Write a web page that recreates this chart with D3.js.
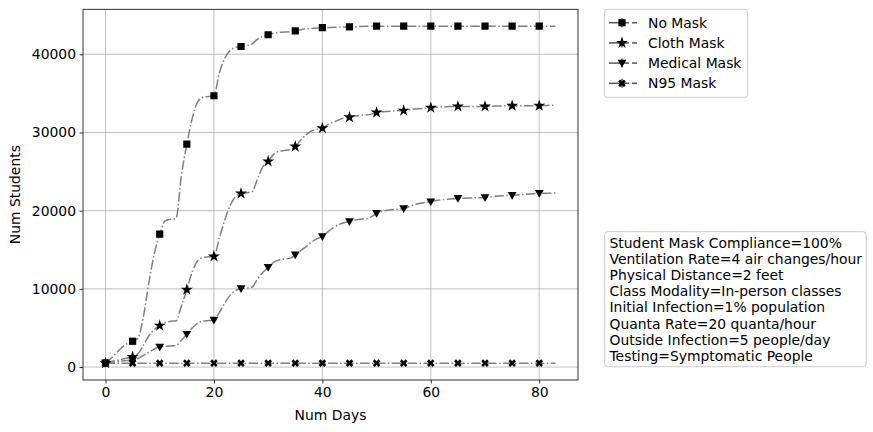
<!DOCTYPE html>
<html>
<head>
<meta charset="utf-8">
<script src="https://cdn.jsdelivr.net/npm/d3@7/dist/d3.min.js"></script>
<style>
  body { margin: 0; background: #fff; }
  svg { font-family: "DejaVu Sans", sans-serif; }
</style>
</head>
<body>
<div id="chart"></div>
<script>
// daily values, day 0..83
const days = d3.range(0, 84);

const noMask = [
  500, 1100, 1800, 2500, 3000, 3300, 3700, 6500, 10800, 14500,
  17000, 18700, 18900, 19000, 24500, 28500, 31800, 33900, 34500, 34600,
  34700, 37600, 39500, 40500, 40900, 41000, 41100, 41300, 41900, 42300,
  42500, 42700, 42800, 42850, 42900, 43000, 43150, 43250, 43300, 43350,
  43400, 43420, 43450, 43480, 43500, 43500, 43520, 43550, 43580, 43600,
  43600, 43600, 43600, 43600, 43600, 43600, 43600, 43600, 43600, 43600,
  43600, 43600, 43600, 43600, 43600, 43600, 43600, 43600, 43600, 43600,
  43600, 43600, 43600, 43600, 43600, 43600, 43600, 43600, 43600, 43600,
  43600, 43600, 43600, 43600
];

const clothMask = [
  500, 700, 850, 1000, 1150, 1300, 1700, 2800, 4000, 4800,
  5300, 5700, 5850, 5900, 7800, 9900, 12200, 13600, 14000, 14100,
  14150, 16500, 18800, 20700, 21800, 22200, 22300, 22400, 24000, 25600,
  26300, 27200, 27600, 27700, 27800, 28200, 29000, 29700, 30200, 30400,
  30550, 31000, 31300, 31600, 31850, 31950, 32100, 32200, 32250, 32350,
  32550, 32650, 32700, 32750, 32780, 32800, 32900, 33000, 33050, 33100,
  33170, 33230, 33280, 33300, 33320, 33330, 33330, 33330, 33330, 33330,
  33330, 33350, 33380, 33400, 33410, 33420, 33420, 33420, 33420, 33420,
  33420, 33450, 33480, 33500
];

const medicalMask = [
  500, 600, 700, 780, 850, 900, 1100, 1500, 1900, 2300,
  2560, 2650, 2700, 2750, 3400, 4200, 5000, 5600, 5900, 5950,
  6000, 7000, 8200, 9200, 9800, 10050, 10100, 10200, 11200, 12100,
  12750, 13400, 13700, 13800, 13900, 14350, 14900, 15400, 16000, 16400,
  16700, 17300, 17800, 18200, 18450, 18600, 18800, 18900, 18950, 19200,
  19650, 19900, 20050, 20150, 20200, 20260, 20500, 20750, 20950, 21050,
  21150, 21300, 21400, 21450, 21530, 21580, 21600, 21620, 21640, 21660,
  21670, 21750, 21830, 21900, 21940, 21960, 22010, 22060, 22120, 22180,
  22220, 22230, 22240, 22250
];

const n95Mask = [
  500, 500, 500, 500, 500, 500, 500, 500, 500, 500,
  500, 500, 500, 500, 500, 500, 500, 500, 500, 500,
  500, 500, 500, 500, 500, 500, 500, 500, 500, 500,
  500, 500, 500, 500, 500, 500, 500, 500, 500, 500,
  500, 500, 500, 500, 500, 500, 500, 500, 500, 500,
  500, 500, 500, 500, 500, 500, 500, 500, 500, 500,
  500, 500, 500, 500, 500, 500, 500, 500, 500, 500,
  500, 500, 500, 500, 500, 500, 500, 500, 500, 500,
  500, 500, 500, 500
];

const seriesNames = ['No Mask', 'Cloth Mask', 'Medical Mask', 'N95 Mask'];
const seriesValues = [noMask, clothMask, medicalMask, n95Mask];
const markerTypes = ['square', 'star', 'triangleDown', 'x'];

const xTicks = [0, 20, 40, 60, 80];
const yTicks = [0, 10000, 20000, 30000, 40000];

const infoLines = [
  'Student Mask Compliance=100%',
  'Ventilation Rate=4 air changes/hour',
  'Physical Distance=2 feet',
  'Class Modality=In-person classes',
  'Initial Infection=1% population',
  'Quanta Rate=20 quanta/hour',
  'Outside Infection=5 people/day',
  'Testing=Symptomatic People'
];

const W = 873, H = 432;
const plot = { left: 83, right: 578, top: 9.3, bottom: 380 };
const FS = 13.9;
const lineColor = '#808080';
const dashStyle = '9.6,2.4,1.5,2.4';

const svg = d3.select('#chart').append('svg')
  .attr('width', W).attr('height', H);

// matplotlib style 5% margins
const xExt = d3.extent(days);
const allVals = seriesValues.flat();
const yExt = d3.extent(allVals);
const xPad = (xExt[1] - xExt[0]) * 0.05;
const yPad = (yExt[1] - yExt[0]) * 0.05;

const x = d3.scaleLinear()
  .domain([xExt[0] - xPad, xExt[1] + xPad])
  .range([plot.left, plot.right]);
const y = d3.scaleLinear()
  .domain([yExt[0] - yPad, yExt[1] + yPad])
  .range([plot.bottom, plot.top]);

// grid
const grid = svg.append('g');
grid.selectAll('.gx').data(xTicks).enter().append('line')
  .attr('x1', d => x(d)).attr('x2', d => x(d))
  .attr('y1', plot.top).attr('y2', plot.bottom)
  .attr('stroke', '#b0b0b0').attr('stroke-width', 0.8);
grid.selectAll('.gy').data(yTicks).enter().append('line')
  .attr('y1', d => y(d)).attr('y2', d => y(d))
  .attr('x1', plot.left).attr('x2', plot.right)
  .attr('stroke', '#b0b0b0').attr('stroke-width', 0.8);

// axes
const xAxis = svg.append('g')
  .attr('transform', `translate(0,${plot.bottom})`)
  .call(d3.axisBottom(x).tickValues(xTicks).tickSize(3.5).tickPadding(3.5));
const yAxis = svg.append('g')
  .attr('transform', `translate(${plot.left},0)`)
  .call(d3.axisLeft(y).tickValues(yTicks).tickSize(3.5).tickPadding(3.5).tickFormat(d3.format('d')));

[xAxis, yAxis].forEach(a => {
  a.select('.domain').remove();
  a.selectAll('.tick line').attr('stroke', '#000').attr('stroke-width', 0.8);
  a.selectAll('.tick text')
    .attr('fill', '#000')
    .style('font-size', FS + 'px')
    .style('font-family', '"DejaVu Sans", sans-serif');
});

// frame
svg.append('rect')
  .attr('x', plot.left).attr('y', plot.top)
  .attr('width', plot.right - plot.left).attr('height', plot.bottom - plot.top)
  .attr('fill', 'none').attr('stroke', '#000').attr('stroke-width', 0.8);

// markers
function starPath(r) {
  const pts = [];
  for (let i = 0; i < 10; i++) {
    const a = -Math.PI / 2 + i * Math.PI / 5;
    const rr = i % 2 === 0 ? r : r * 0.382;
    pts.push([rr * Math.cos(a), rr * Math.sin(a)]);
  }
  return 'M' + pts.map(p => p.join(',')).join('L') + 'Z';
}
function xPath(r) {
  const w = r * 0.5;
  const s = [[-r, -r + w], [-r + w, -r], [0, -w], [r - w, -r], [r, -r + w], [w, 0],
    [r, r - w], [r - w, r], [0, w], [-r + w, r], [-r, r - w], [-w, 0]];
  return 'M' + s.map(p => p.join(',')).join('L') + 'Z';
}
function markerPath(type) {
  switch (type) {
    case 'square': return 'M-3.6,-3.6H3.6V3.6H-3.6Z';
    case 'star': return starPath(6.3);
    case 'triangleDown': return 'M-4.4,-3.3L4.4,-3.3L0,4.4Z';
    case 'x': return xPath(3.8);
  }
}

const line = d3.line()
  .x((d, i) => x(days[i]))
  .y(d => y(d))
  .curve(d3.curveMonotoneX);

svg.append('clipPath').attr('id', 'clip').append('rect')
  .attr('x', plot.left).attr('y', plot.top)
  .attr('width', plot.right - plot.left).attr('height', plot.bottom - plot.top);

const series = svg.append('g').attr('clip-path', 'url(#clip)');
seriesValues.forEach(vals => {
  series.append('path')
    .datum(vals)
    .attr('d', line)
    .attr('fill', 'none')
    .attr('stroke', lineColor)
    .attr('stroke-width', 1.5)
    .attr('stroke-dasharray', dashStyle);
});
seriesValues.forEach((vals, k) => {
  series.selectAll('.m' + k)
    .data(days.filter(d => d % 5 === 0 && d <= 80))
    .enter().append('path')
    .attr('transform', d => `translate(${x(d)},${y(vals[d])})`)
    .attr('d', markerPath(markerTypes[k]))
    .attr('fill', '#000');
});

// axis labels
svg.append('text')
  .attr('x', (plot.left + plot.right) / 2).attr('y', 420)
  .attr('text-anchor', 'middle').style('font-size', FS + 'px')
  .text('Num Days');
svg.append('text')
  .attr('transform', `translate(20,${(plot.top + plot.bottom) / 2}) rotate(-90)`)
  .attr('text-anchor', 'middle').style('font-size', FS + 'px')
  .text('Num Students');

// legend
const lg = svg.append('g');
lg.append('rect')
  .attr('x', 604.5).attr('y', 9.3).attr('width', 143).attr('height', 88)
  .attr('rx', 2.5).attr('fill', '#fff').attr('fill-opacity', 0.8)
  .attr('stroke', '#cccccc').attr('stroke-width', 1);
seriesNames.forEach((name, k) => {
  const cy = 22.7 + k * 20.2;
  const g = lg.append('g').attr('transform', `translate(0,${cy})`);
  g.append('line').attr('x1', 609).attr('x2', 629).attr('y1', 0).attr('y2', 0)
    .attr('stroke', '#555').attr('stroke-width', 1.5);
  g.append('line').attr('x1', 632).attr('x2', 637).attr('y1', 0).attr('y2', 0)
    .attr('stroke', '#555').attr('stroke-width', 1.5);
  g.append('line').attr('x1', 622).attr('x2', 622).attr('y1', -4.5).attr('y2', 4.5)
    .attr('stroke', '#555').attr('stroke-width', 1.5);
  g.append('path').attr('transform', 'translate(622,0)')
    .attr('d', markerPath(markerTypes[k])).attr('fill', '#000');
  g.append('text').attr('x', 648).attr('y', 5)
    .style('font-size', FS + 'px').text(name);
});

// info box
const ib = svg.append('g');
ib.append('rect')
  .attr('x', 604.7).attr('y', 231.7).attr('width', 261.5).attr('height', 135)
  .attr('rx', 3).attr('fill', '#fff').attr('stroke', '#cccccc').attr('stroke-width', 1);
ib.selectAll('text').data(infoLines).enter().append('text')
  .attr('x', 609.5).attr('y', (d, i) => 248 + i * 16.1)
  .style('font-size', FS + 'px')
  .text(d => d);
</script>
</body>
</html>
